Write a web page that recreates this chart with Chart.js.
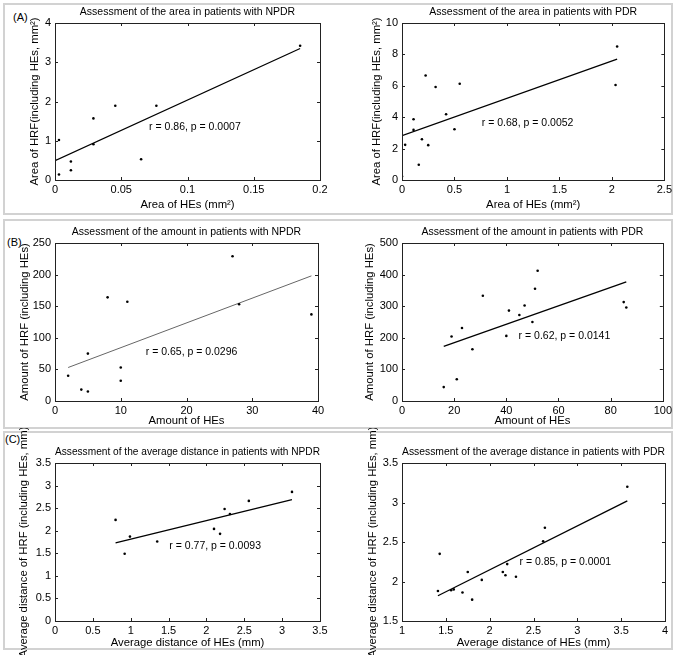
<!DOCTYPE html>
<html>
<head>
<meta charset="utf-8">
<script src="https://cdn.jsdelivr.net/npm/chart.js@4.4.1/dist/chart.umd.min.js"></script>
<style>
  body { margin: 0; width: 675px; height: 655px; position: relative; overflow: hidden; background: #fff;
         font-family: 'Liberation Sans', Arial, sans-serif; }
  .panel { position: absolute; left: 3px; width: 670px; box-sizing: border-box; border: 2px solid #d2d2d2; }
  .tag { position: absolute; font-size: 11px; color: #000; }
  canvas { position: absolute; }
</style>
</head>
<body>
<div class="panel" style="top:3px;height:212px"></div>
<div class="panel" style="top:219px;height:210px"></div>
<div class="panel" style="top:431px;height:219px"></div>
<div class="tag" style="left:13px;top:11px">(A)</div>
<div class="tag" style="left:7px;top:236px">(B)</div>
<div class="tag" style="left:5px;top:433px">(C)</div>
<canvas id="aNpdr"></canvas>
<canvas id="aPdr"></canvas>
<canvas id="bNpdr"></canvas>
<canvas id="bPdr"></canvas>
<canvas id="cNpdr"></canvas>
<canvas id="cPdr"></canvas>
<script>
// (A) area, NPDR
const areaNpdrHEs = [0, 0.003, 0.003, 0.012, 0.012, 0.029, 0.029, 0.0455, 0.065, 0.0765, 0.185];
const areaNpdrHRF = [0.52, 1.02, 0.14, 0.47, 0.25, 1.57, 0.91, 1.89, 0.53, 1.89, 3.42];
const areaNpdrFitX = [0, 0.185];
const areaNpdrFitY = [0.49, 3.35];
// (A) area, PDR
const areaPdrHEs = [0, 0.03, 0.11, 0.11, 0.16, 0.19, 0.225, 0.25, 0.32, 0.42, 0.5, 0.55, 2.035, 2.05];
const areaPdrHRF = [0.23, 2.24, 3.87, 3.19, 0.97, 2.6, 6.66, 2.22, 5.92, 4.19, 3.23, 6.13, 6.05, 8.5];
const areaPdrFitX = [0, 2.05];
const areaPdrFitY = [2.83, 7.7];
// (B) amount, NPDR
const amountNpdrHEs = [2, 4, 5, 5, 8, 10, 10, 11, 27, 28, 39];
const amountNpdrHRF = [40, 18, 75, 15, 164, 53, 32, 157, 229, 153, 137];
const amountNpdrFitX = [2, 39];
const amountNpdrFitY = [53, 198];
// (B) amount, PDR
const amountPdrHEs = [16, 19, 21, 23, 27, 31, 40, 41, 45, 47, 50, 51, 52, 85, 86];
const amountPdrHRF = [44, 204, 69, 231, 164, 333, 206, 286, 272, 302, 250, 355, 412, 313, 296];
const amountPdrFitX = [16, 86];
const amountPdrFitY = [173, 377];
// (C) average distance, NPDR
const distNpdrHEs = [0.8, 0.92, 0.99, 1.35, 2.1, 2.18, 2.24, 2.31, 2.56, 3.13];
const distNpdrHRF = [2.24, 1.49, 1.87, 1.76, 2.04, 1.93, 2.48, 2.37, 2.66, 2.86];
const distNpdrFitX = [0.8, 3.13];
const distNpdrFitY = [1.73, 2.69];
// (C) average distance, PDR
const distPdrHEs = [1.41, 1.43, 1.56, 1.59, 1.69, 1.75, 1.8, 1.91, 2.15, 2.18, 2.2, 2.3, 2.61, 2.63, 3.57];
const distPdrHRF = [1.88, 2.35, 1.89, 1.9, 1.86, 2.12, 1.77, 2.02, 2.12, 2.08, 2.22, 2.06, 2.51, 2.68, 3.2];
const distPdrFitX = [1.41, 3.57];
const distPdrFitY = [1.82, 3.02];

// tick labels
const areaNpdrXTicks = [0, 0.05, 0.1, 0.15, 0.2];
const areaNpdrYTicks = [0, 1, 2, 3, 4];
const areaPdrXTicks = [0, 0.5, 1, 1.5, 2, 2.5];
const areaPdrYTicks = [0, 2, 4, 6, 8, 10];
const amountNpdrXTicks = [0, 10, 20, 30, 40];
const amountNpdrYTicks = [0, 50, 100, 150, 200, 250];
const amountPdrXTicks = [0, 20, 40, 60, 80, 100];
const amountPdrYTicks = [0, 100, 200, 300, 400, 500];
const distNpdrXTicks = [0, 0.5, 1, 1.5, 2, 2.5, 3, 3.5];
const distNpdrYTicks = [0, 0.5, 1, 1.5, 2, 2.5, 3, 3.5];
const distPdrXTicks = [1, 1.5, 2, 2.5, 3, 3.5, 4];
const distPdrYTicks = [1.5, 2, 2.5, 3, 3.5];

const FAMILY = "'Liberation Sans', Arial, sans-serif";
const FONT = { family: FAMILY, size: 10.5, weight: 'normal' };
const TICK_FONT = { family: FAMILY, size: 11, weight: 'normal' };
const LABEL_FONT = { family: FAMILY, size: 11.3, weight: 'normal' };
const TITLE_H = FONT.size * 1.2 + 5;
const LABEL_SHIFT = (LABEL_FONT.size - 10.5) * 0.6;

const pairs = (xs, ys) => xs.map((x, i) => ({ x: x, y: ys[i] }));
const fmt = v => String(Math.round(v * 1000) / 1000);

// closed box with inward ticks, plus the r/p note
const matlabBox = {
  id: 'matlabBox',
  afterDatasetsDraw(chart, args, opts) {
    const { ctx, chartArea: a, scales: { x, y } } = chart;
    ctx.save();
    ctx.strokeStyle = '#222';
    ctx.lineWidth = 1;
    ctx.strokeRect(Math.round(a.left) + 0.5, Math.round(a.top) + 0.5,
      Math.round(a.width), Math.round(a.height));
    ctx.beginPath();
    x.ticks.forEach(t => {
      const px = Math.round(x.getPixelForValue(t.value)) + 0.5;
      ctx.moveTo(px, a.bottom); ctx.lineTo(px, a.bottom - 3);
      ctx.moveTo(px, a.top); ctx.lineTo(px, a.top + 3);
    });
    y.ticks.forEach(t => {
      const py = Math.round(y.getPixelForValue(t.value)) + 0.5;
      ctx.moveTo(a.left, py); ctx.lineTo(a.left + 3, py);
      ctx.moveTo(a.right, py); ctx.lineTo(a.right - 3, py);
    });
    ctx.stroke();
    ctx.fillStyle = '#000';
    ctx.font = FONT.size + 'px ' + FONT.family;
    ctx.textBaseline = 'middle';
    ctx.textAlign = 'left';
    ctx.fillText(opts.text, x.getPixelForValue(opts.x), y.getPixelForValue(opts.y));
    ctx.restore();
  }
};

function scatterPlot(id, c) {
  const cv = document.getElementById(id);
  cv.width = c.box.w; cv.height = c.box.h;
  cv.style.left = c.box.x + 'px'; cv.style.top = c.box.y + 'px';
  const yw = c.yw + LABEL_SHIFT, xh = c.xh + LABEL_SHIFT;
  const padding = {
    left: c.plot.l - c.box.x - yw,
    top: c.plot.t - c.box.y - TITLE_H,
    right: c.box.x + c.box.w - c.plot.r,
    bottom: c.box.y + c.box.h - c.plot.b - xh
  };
  const axis = (ticks, label, pad, fit) => ({
    type: 'linear',
    min: ticks[0], max: ticks[ticks.length - 1],
    grid: { display: false, drawTicks: false },
    border: { display: false },
    afterBuildTicks: s => { s.ticks = ticks.map(v => ({ value: v })); },
    afterFit: fit,
    ticks: { color: '#000', font: TICK_FONT, padding: pad, maxRotation: 0, autoSkip: false, callback: fmt },
    title: { display: true, text: label, color: '#000', font: LABEL_FONT, padding: 0 }
  });
  return new Chart(cv, {
    type: 'scatter',
    data: {
      datasets: [
        { data: pairs(c.xs, c.ys), backgroundColor: '#000', borderWidth: 0,
          pointRadius: 1.3, pointHoverRadius: 1.3 },
        { data: pairs(c.fitX, c.fitY), showLine: true, borderColor: c.fitColor || '#000',
          borderWidth: c.fitWidth || 1.3, pointRadius: 0 }
      ]
    },
    options: {
      responsive: false,
      animation: false,
      events: [],
      layout: { padding },
      plugins: {
        legend: { display: false },
        tooltip: { enabled: false },
        title: { display: true, text: c.title, fullSize: false, color: '#000', font: FONT,
                 padding: { top: 0, bottom: 5 } },
        matlabBox: c.note
      },
      scales: {
        x: axis(c.xTicks, c.xLabel, 3, s => { s.height = xh; }),
        y: axis(c.yTicks, c.yLabel, 4, s => { s.width = yw; })
      }
    },
    plugins: [matlabBox]
  });
}

scatterPlot('aNpdr', {
  box: { x: 4, y: 4, w: 332, h: 211 }, plot: { l: 55, t: 23, r: 320, b: 180 }, yw: 26, xh: 31.3,
  xs: areaNpdrHEs, ys: areaNpdrHRF, fitX: areaNpdrFitX, fitY: areaNpdrFitY,
  xTicks: areaNpdrXTicks, yTicks: areaNpdrYTicks,
  title: 'Assessment of the area in patients with NPDR',
  xLabel: 'Area of HEs (mm\u00B2)', yLabel: 'Area of HRF(including HEs, mm\u00B2)',
  note: { text: 'r = 0.86, p = 0.0007', x: 0.071, y: 1.34 }
});
scatterPlot('aPdr', {
  box: { x: 338, y: 4, w: 337, h: 211 }, plot: { l: 402, t: 23, r: 665, b: 180 }, yw: 31.3, xh: 31.3,
  xs: areaPdrHEs, ys: areaPdrHRF, fitX: areaPdrFitX, fitY: areaPdrFitY,
  xTicks: areaPdrXTicks, yTicks: areaPdrYTicks,
  title: 'Assessment of the area in patients with PDR',
  xLabel: 'Area of HEs (mm\u00B2)', yLabel: 'Area of HRF(including HEs, mm\u00B2)',
  note: { text: 'r = 0.68, p = 0.0052', x: 0.76, y: 3.6 }
});
scatterPlot('bNpdr', {
  box: { x: 4, y: 220, w: 332, h: 211 }, plot: { l: 55, t: 243, r: 318, b: 401 }, yw: 36.3, xh: 26.3,
  xs: amountNpdrHEs, ys: amountNpdrHRF, fitX: amountNpdrFitX, fitY: amountNpdrFitY,
  fitColor: '#666', fitWidth: 1,
  xTicks: amountNpdrXTicks, yTicks: amountNpdrYTicks,
  title: 'Assessment of the amount in patients with NPDR',
  xLabel: 'Amount of HEs', yLabel: 'Amount of HRF (including HEs)',
  note: { text: 'r = 0.65, p = 0.0296', x: 13.8, y: 78 }
});
scatterPlot('bPdr', {
  box: { x: 338, y: 220, w: 337, h: 211 }, plot: { l: 402, t: 243, r: 665, b: 401 }, yw: 38.3, xh: 26.3,
  xs: amountPdrHEs, ys: amountPdrHRF, fitX: amountPdrFitX, fitY: amountPdrFitY,
  xTicks: amountPdrXTicks, yTicks: amountPdrYTicks,
  title: 'Assessment of the amount in patients with PDR',
  xLabel: 'Amount of HEs', yLabel: 'Amount of HRF (including HEs)',
  note: { text: 'r = 0.62, p = 0.0141', x: 44.7, y: 204 }
});
scatterPlot('cNpdr', {
  box: { x: 4, y: 428, w: 332, h: 227 }, plot: { l: 55, t: 463, r: 320, b: 621 }, yw: 37.3, xh: 28.3,
  xs: distNpdrHEs, ys: distNpdrHRF, fitX: distNpdrFitX, fitY: distNpdrFitY,
  xTicks: distNpdrXTicks, yTicks: distNpdrYTicks,
  title: 'Assessment of the average distance in patients with NPDR',
  xLabel: 'Average distance of HEs (mm)', yLabel: 'Average distance of HRF (including HEs, mm)',
  note: { text: 'r = 0.77, p = 0.0093', x: 1.51, y: 1.67 }
});
scatterPlot('cPdr', {
  box: { x: 338, y: 428, w: 337, h: 227 }, plot: { l: 402, t: 463, r: 665, b: 621 }, yw: 35.6, xh: 28.3,
  xs: distPdrHEs, ys: distPdrHRF, fitX: distPdrFitX, fitY: distPdrFitY,
  xTicks: distPdrXTicks, yTicks: distPdrYTicks,
  title: 'Assessment of the average distance in patients with PDR',
  xLabel: 'Average distance of HEs (mm)', yLabel: 'Average distance of HRF (including HEs, mm)',
  note: { text: 'r = 0.85, p = 0.0001', x: 2.34, y: 2.24 }
});
</script>
</body>
</html>
